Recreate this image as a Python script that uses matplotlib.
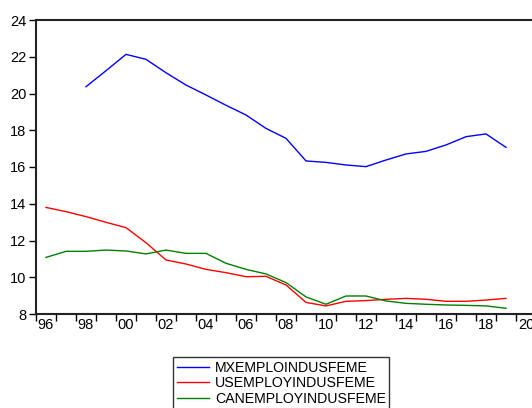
import matplotlib
matplotlib.use('Agg')
import matplotlib.pyplot as plt

plt.rcParams['font.family'] = ['Liberation Sans', 'DejaVu Sans']

years = list(range(1996, 2020))
mx_years = list(range(1998, 2020))
mx = [20.37, 21.24, 22.13, 21.86, 21.13, 20.46, 19.92, 19.36, 18.83, 18.10,
      17.56, 16.33, 16.25, 16.11, 16.02, 16.38, 16.71, 16.85, 17.20, 17.65,
      17.80, 17.07]
us = [13.80, 13.57, 13.30, 12.99, 12.70, 11.88, 10.94, 10.72, 10.43, 10.25,
      10.03, 10.05, 9.58, 8.63, 8.44, 8.69, 8.73, 8.80, 8.85, 8.80,
      8.69, 8.69, 8.76, 8.85]
can = [11.08, 11.41, 11.41, 11.48, 11.43, 11.27, 11.48, 11.30, 11.30, 10.76,
       10.43, 10.18, 9.71, 8.93, 8.53, 8.98, 8.98, 8.71, 8.58, 8.53,
       8.49, 8.47, 8.44, 8.31]
names = ['MXEMPLOINDUSFEME', 'USEMPLOYINDUSFEME', 'CANEMPLOYINDUSFEME']
yticks = [8, 10, 12, 14, 16, 18, 20, 22, 24]
label_years = list(range(1996, 2021, 2))

fig = plt.figure(figsize=(5.32, 4.08), dpi=100)
ax = fig.add_axes([36 / 532, 1 - 314 / 408, 500 / 532, 294 / 408])

l1, = ax.plot(mx_years, mx, color='#0000FF', lw=1)
l2, = ax.plot(years, us, color='#FF0000', lw=1)
l3, = ax.plot(years, can, color='#008000', lw=1)

ax.set_xlim(1995.5, 2020.5)
ax.set_ylim(8, 24)
ax.set_yticks(yticks)
ax.set_yticklabels([str(v) for v in yticks], fontsize=10.5)

# ticks between years, labels at year centres
ax.set_xticks([y - 0.5 for y in range(1996, 2022)])
ax.set_xticklabels([])
ax.set_xticks(label_years, minor=True)
ax.set_xticklabels(['%02d' % (y % 100) for y in label_years], minor=True, fontsize=10.5)
ax.tick_params(axis='x', which='major', length=5, direction='out', width=1)
ax.tick_params(axis='x', which='minor', length=0, pad=3)
ax.tick_params(axis='y', length=5, direction='out', width=1, pad=2)

for s in ['left', 'top', 'bottom', 'right']:
    ax.spines[s].set_color('#222222')
    ax.spines[s].set_linewidth(1.5)

leg = fig.legend([l1, l2, l3], names, loc='upper left',
                 bbox_to_anchor=(173 / 532, 1 - 357 / 408),
                 fontsize=10.2, fancybox=False, edgecolor='black',
                 handlelength=2.3, handletextpad=0.4, labelspacing=0.12,
                 borderpad=0.25, borderaxespad=0)
leg.get_frame().set_linewidth(1)

fig.savefig('out.png', dpi=100)
